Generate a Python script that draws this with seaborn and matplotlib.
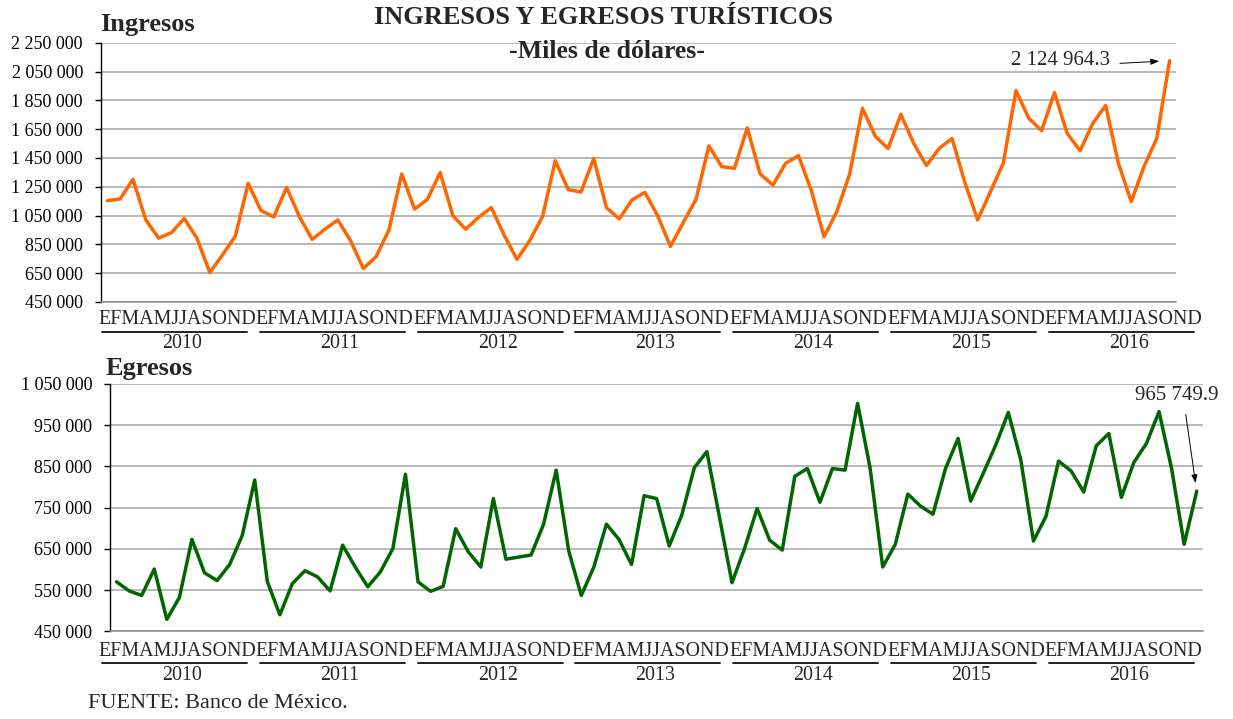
import numpy as np
import pandas as pd
import matplotlib
matplotlib.use("Agg")
import matplotlib.pyplot as plt
from matplotlib.lines import Line2D
import seaborn as sns

# Monthly tourism flows, thousands of US dollars
years = ["2010", "2011", "2012", "2013", "2014", "2015", "2016"]
month_letters = "EFMAMJJASOND"

ingresos = [
    1153000, 1166000, 1302000, 1020000, 894000, 931000, 1030000, 892000, 655000, 777000, 908000, 1273000,
    1085000, 1041000, 1245000, 1043000, 885000, 955000, 1020000, 876000, 682000, 765000, 950000, 1339000,
    1095000, 1162000, 1348000, 1048000, 955000, 1038000, 1105000, 915000, 746000, 876000, 1043000, 1431000,
    1231000, 1213000, 1445000, 1105000, 1027000, 1159000, 1211000, 1048000, 836000, 1002000, 1164000, 1534000,
    1390000, 1378000, 1659000, 1339000, 1262000, 1413000, 1466000, 1225000, 903000, 1078000, 1339000, 1795000,
    1601000, 1515000, 1753000, 1552000, 1397000, 1517000, 1585000, 1280000, 1020000, 1216000, 1413000, 1917000,
    1725000, 1640000, 1904000, 1620000, 1500000, 1690000, 1815000, 1413000, 1147000, 1390000, 1586000, 2124964.3,
]

egresos = [
    570000, 548000, 537000, 601000, 479000, 532000, 673000, 592000, 573000, 612000, 682000, 817000,
    571000, 490000, 566000, 597000, 582000, 548000, 659000, 606000, 558000, 594000, 651000, 831000,
    570000, 547000, 559000, 699000, 643000, 606000, 772000, 625000, 630000, 635000, 710000, 841000,
    645000, 537000, 606000, 710000, 673000, 612000, 779000, 772000, 657000, 732000, 847000, 886000,
    727000, 568000, 651000, 748000, 671000, 647000, 826000, 845000, 763000, 845000, 841000, 1003000,
    845000, 606000, 661000, 783000, 754000, 734000, 845000, 918000, 766000, 833000, 902000, 981000,
    865000, 669000, 729000, 863000, 839000, 788000, 900000, 930000, 775000, 860000, 906000, 983000,
    845000, 661000, 790000,
]

ingresos_ticks = list(range(450000, 2250001, 200000))
egresos_ticks = list(range(450000, 1050001, 100000))
ingresos_label = "2 124 964.3"
egresos_label = "965 749.9"

sns.set_style("white")
plt.rcParams["font.family"] = ["Liberation Serif", "DejaVu Serif"]

W, H = 1233, 719
fig = plt.figure(figsize=(W / 100, H / 100), dpi=100)


def fx(px):
    return px / W


def fy(py):
    return 1 - py / H


def thousands(v):
    return f"{v:,.0f}".replace(",", " ")


def style_axis(ax, ticks):
    ax.set_ylim(ticks[0], ticks[-1])
    ax.set_yticks(ticks)
    ax.set_yticklabels([thousands(t) for t in ticks], fontsize=13)
    ax.set_xticks([])
    ax.set_xlabel("")
    ax.set_ylabel("")
    ax.grid(axis="y", color="#A6A6A6", lw=1.1)
    ax.set_axisbelow(True)
    for side in ("top", "right"):
        ax.spines[side].set_visible(False)
    ax.spines["left"].set_color("black")
    ax.spines["left"].set_linewidth(1.0)
    ax.spines["bottom"].set_color("#8C8C8C")
    ax.spines["bottom"].set_linewidth(1.1)
    ax.tick_params(axis="y", direction="out", length=4, width=1, color="black",
                   pad=9, labelcolor="black", left=True)


def month_rows(y_month, y_line, y_year):
    group = 157.8
    for k, yr in enumerate(years):
        s = 98 + k * group
        fig.text(fx(s + group / 2), fy(y_month), month_letters, ha="center", va="center",
                 fontsize=14.4)
        fig.add_artist(Line2D([fx(s + 4), fx(s + 149)], [fy(y_line), fy(y_line)],
                              color="#222222", lw=1.4))
        fig.text(fx(s + 84), fy(y_year), yr, ha="center", va="center", fontsize=14.4)


# Ingresos panel
ax1 = fig.add_axes([fx(101), fy(302), fx(1176) - fx(101), fy(42.7) - fy(302)])
df1 = pd.DataFrame({"periodo": np.arange(len(ingresos)), "valor": ingresos})
sns.lineplot(data=df1, x="periodo", y="valor", ax=ax1, color="#FF6600", lw=2.5)
ax1.set_xlim(-0.5, len(ingresos) - 0.5)
style_axis(ax1, ingresos_ticks)
last1 = (len(ingresos) - 1, ingresos[-1])
ax1.annotate("", xy=last1, xytext=(-35.8, -1.9), textcoords="offset points",
             arrowprops=dict(arrowstyle="-|>,head_length=0.5,head_width=0.18",
                             color="black", lw=0.7, shrinkA=0, shrinkB=7.5))
ax1.annotate(ingresos_label, xy=last1, xytext=(-42.5, 0), textcoords="offset points",
             ha="right", va="center", fontsize=15)

# Egresos panel
ax2 = fig.add_axes([fx(110.3), fy(631.3), fx(1203) - fx(110.3), fy(384) - fy(631.3)])
df2 = pd.DataFrame({"periodo": np.arange(len(egresos)), "valor": egresos})
sns.lineplot(data=df2, x="periodo", y="valor", ax=ax2, color="#006600", lw=2.5)
ax2.set_xlim(-0.5, len(egresos) - 0.5)
style_axis(ax2, egresos_ticks)
last2 = (len(egresos) - 1, egresos[-1])
ax2.annotate("", xy=last2, xytext=(-7.9, 55.2), textcoords="offset points",
             arrowprops=dict(arrowstyle="-|>,head_length=0.5,head_width=0.18",
                             color="black", lw=0.7, shrinkA=0, shrinkB=5.8))
ax2.annotate(egresos_label, xy=last2, xytext=(-14.2, 69.1), textcoords="offset points",
             ha="center", va="center", fontsize=15)

# Month / year category rows
month_rows(319.5, 331.7, 343.5)
month_rows(651, 663.3, 676)

# Titles and captions
fig.text(fx(603), fy(18), "INGRESOS Y EGRESOS TURÍSTICOS", ha="center", va="center",
         fontsize=19, fontweight="bold")
fig.text(fx(607), fy(52), "-Miles de dólares-", ha="center", va="center",
         fontsize=18.5, fontweight="bold")
fig.text(fx(100), fy(25), "Ingresos", ha="left", va="center", fontsize=19, fontweight="bold")
fig.text(fx(106), fy(368), "Egresos", ha="left", va="center", fontsize=19, fontweight="bold")
fig.text(fx(88), fy(703), "FUENTE: Banco de México.", ha="left", va="center", fontsize=16)

fig.savefig("out.png", dpi=100, facecolor="white")
